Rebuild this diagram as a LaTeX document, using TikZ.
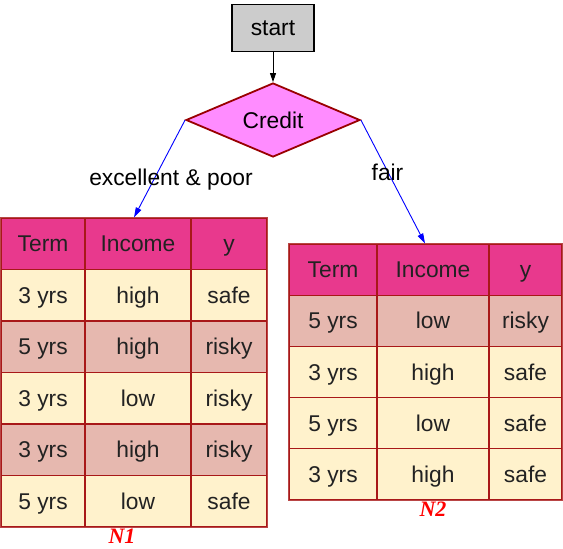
\documentclass[tikz,border=0pt]{standalone}
\usepackage{fontspec}
\setmainfont{Liberation Sans}
\newfontfamily\labserif{Liberation Serif}
\usetikzlibrary{shapes.geometric,arrows.meta}
\definecolor{hdr}{HTML}{E8398D}
\definecolor{lt}{HTML}{FFF2CC}
\definecolor{dk}{HTML}{E6B8AF}
\definecolor{tabred}{HTML}{A81818}
\definecolor{dia}{HTML}{FF8CFF}
\definecolor{diab}{HTML}{990000}
\definecolor{txt}{HTML}{222222}
\tikzset{
  bigfont/.style={font=\fontsize{22.8}{26}\selectfont},
  cell/.style={rectangle, draw=tabred, line width=1.1pt, inner sep=0pt, minimum height=51.5pt, bigfont, text=txt, text height=18pt, text depth=2pt},
  cellb/.style={cell, minimum height=51.2pt},
  startbox/.style={rectangle, draw=black, line width=1.6pt, fill=black!20, minimum width=82pt, minimum height=47pt, inner sep=0pt, bigfont},
  decision/.style={diamond, draw=diab, line width=1.8pt, fill=dia, minimum width=174pt, minimum height=74pt, aspect=2.35, inner sep=0pt, bigfont},
  blk/.style={-{Triangle[length=9pt,width=6pt]}, line width=0.9pt, black},
  blu/.style={-{Triangle[length=10pt,width=6pt]}, line width=0.9pt, blue},
  edgelab/.style={bigfont},
  nlab/.style={font=\labserif\bfseries\itshape\fontsize{22}{26}\selectfont, text=red},
}
\begin{document}
\begin{tikzpicture}[x=1pt,y=-1pt]
\useasboundingbox (0,0) rectangle (563,549);
\node[startbox] (start) at (273,28) {start};
\node[decision] (credit) at (273,120) {Credit};
\draw[blk] (start) -- (credit);
% table N1
\foreach \i/\fc/\a/\b/\c in {0/hdr/Term/Income/y, 1/lt/3 yrs/high/safe, 2/dk/5 yrs/high/risky, 3/lt/3 yrs/low/risky, 4/dk/3 yrs/high/risky, 5/lt/5 yrs/low/safe}{
  \pgfmathsetmacro\yc{243.75+\i*51.5}
  \node[cell, fill=\fc, minimum width=84pt] (A\i) at (43,\yc) {\a};
  \node[cell, fill=\fc, minimum width=106pt] (B\i) at (138,\yc) {\b};
  \node[cell, fill=\fc, minimum width=76pt] (C\i) at (229,\yc) {\c};
}
% table N2
\foreach \i/\fc/\a/\b/\c in {0/hdr/Term/Income/y, 1/dk/5 yrs/low/risky, 2/lt/3 yrs/high/safe, 3/lt/5 yrs/low/safe, 4/lt/3 yrs/high/safe}{
  \pgfmathsetmacro\yc{269.6+\i*51.2}
  \node[cellb, fill=\fc, minimum width=88pt] (D\i) at (333,\yc) {\a};
  \node[cellb, fill=\fc, minimum width=112pt] (E\i) at (433,\yc) {\b};
  \node[cellb, fill=\fc, minimum width=73pt] (F\i) at (525.5,\yc) {\c};
}
\draw[tabred!80!white, line width=1.6pt] (A0.north west) rectangle (C5.south east);
\draw[tabred!80!white, line width=1.6pt] (D0.north west) rectangle (F4.south east);
\coordinate (t1) at ([xshift=-4pt]B0.north);
\coordinate (t2) at ([xshift=-8pt]E0.north);
\draw[blu] (credit.west) -- (t1);
\draw[blu] (credit.east) -- (t2);
\node[edgelab] (l1) at (171,180) {excellent \& poor};
\node[edgelab] (l2) at (387.5,172) {fair};
\node[nlab] (n1) at (122,536) {N1};
\node[nlab] (n2) at (433,509) {N2};
\end{tikzpicture}
\end{document}
